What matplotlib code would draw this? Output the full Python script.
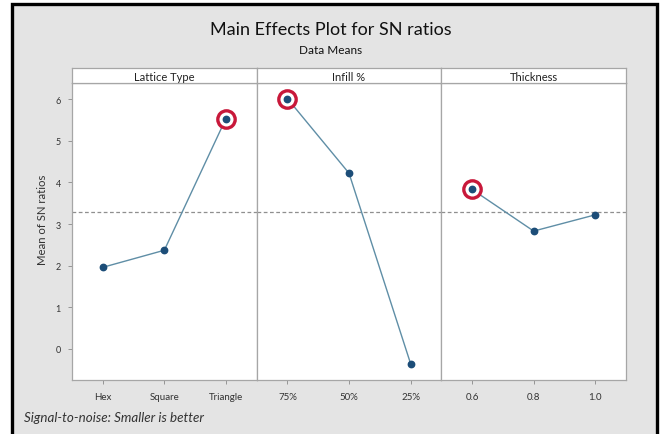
import numpy as np
import matplotlib
matplotlib.use("Agg")
import matplotlib.pyplot as plt
from matplotlib.patches import Rectangle

plt.rcParams['font.family'] = ['Lato', 'DejaVu Sans']

# factor levels and mean S/N ratio per level
factors = ['Lattice Type', 'Infill %', 'Thickness']
lattice_levels = ['Hex', 'Square', 'Triangle']
lattice_sn = [1.96, 2.37, 5.53]
infill_levels = ['75%', '50%', '25%']
infill_sn = [6.01, 4.22, -0.35]
thick_levels = ['0.6', '0.8', '1.0']
thick_sn = [3.83, 2.83, 3.22]

levels = [lattice_levels, infill_levels, thick_levels]
means = [lattice_sn, infill_sn, thick_sn]
grand_mean = np.mean(lattice_sn + infill_sn + thick_sn)

W, H = 662, 435
fig = plt.figure(figsize=(W / 100, H / 100), dpi=100, facecolor='white')

# grey canvas with a black frame
fig.patches.append(Rectangle((12 / W, -0.05), 645 / W, 1 - 5 / H + 0.05,
                             transform=fig.transFigure, facecolor='#e4e4e4',
                             edgecolor='black', linewidth=2.4, zorder=-5))

def fx(px):
    return px / W

def fy(py):
    return 1 - py / H

left, right = 72, 626
top, bottom = 84, 381
strip_top = 69
pw = (right - left) / 3

line_col = '#5f8ea6'
dot_col = '#1c4d78'
edge_col = '#a6a6a6'

axes = []
for i, (labs, vals) in enumerate(zip(levels, means)):
    x0 = left + i * pw
    ax = fig.add_axes([fx(x0), fy(bottom), pw / W, (bottom - top) / H])
    ax.set_facecolor('white')
    x = np.arange(1, 4)
    ax.axhline(grand_mean, color='#8f8f8f', lw=0.9, ls=(0, (3, 2)), zorder=1)
    ax.plot(x, vals, color=line_col, lw=1.0, zorder=2)
    # ring around the best level of each factor
    best = int(np.argmax(vals))
    ax.plot(x[best], vals[best], 'o', ms=12.5, mfc='white', mec='#c8183a',
            mew=2.4, zorder=3)
    ax.plot(x, vals, 'o', ms=4.6, color=dot_col, zorder=4)
    ax.set_xlim(0.5, 3.5)
    ax.set_ylim(-0.745, 6.385)
    ax.set_xticks(x)
    ax.set_xticklabels(labs, fontsize=7, color='#333333')
    ax.tick_params(axis='x', length=3, width=0.6, color='#888888', pad=6)
    if i == 0:
        ax.set_yticks(range(0, 7))
        ax.tick_params(axis='y', labelsize=6.5, length=3, width=0.6,
                       color='#888888', labelcolor='#333333', pad=5)
    else:
        ax.set_yticks([])
    for sp in ax.spines.values():
        sp.set_color(edge_col)
        sp.set_linewidth(0.9)

    # factor name strip
    st = fig.add_axes([fx(x0), fy(top), pw / W, (top - strip_top) / H])
    st.set_facecolor('white')
    st.set_xticks([])
    st.set_yticks([])
    for sp in st.spines.values():
        sp.set_color(edge_col)
        sp.set_linewidth(0.9)
    st.text(0.5, 0.45, factors[i], ha='center', va='center', fontsize=8,
            color='#222222', transform=st.transAxes)
    axes.append(ax)

fig.text(fx(331), fy(30), 'Main Effects Plot for SN ratios', ha='center',
         va='center', fontsize=13, color='#111111')
fig.text(fx(331), fy(51), 'Data Means', ha='center', va='center',
         fontsize=8.5, color='#111111')
fig.text(fx(42), fy(220), 'Mean of SN ratios', rotation=90, ha='center',
         va='center', fontsize=8.2, color='#333333')
fig.text(fx(24), fy(418), 'Signal-to-noise: Smaller is better', ha='left',
         va='center', fontsize=9.6, style='italic', color='#333333')

fig.savefig('out.png', dpi=100, facecolor=fig.get_facecolor())
